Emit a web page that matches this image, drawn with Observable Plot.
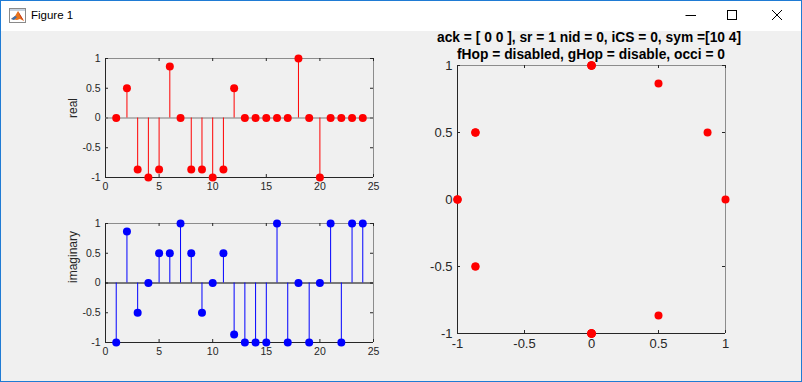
<!DOCTYPE html>
<html><head><meta charset="utf-8">
<script src="https://cdn.jsdelivr.net/npm/d3@7"></script>
<script src="https://cdn.jsdelivr.net/npm/@observablehq/plot@0.6"></script>
<style>
html,body{margin:0;padding:0;}
body{width:802px;height:382px;overflow:hidden;position:relative;background:#f0f0f0;font-family:"Liberation Sans",Arial,sans-serif;}
#titlebar{position:absolute;left:0;top:0;width:802px;height:31px;background:#fff;}
#wintitle{position:absolute;left:31px;top:8px;font-size:11.5px;line-height:15px;color:#000;}
#border{position:absolute;left:0;top:0;width:802px;height:382px;box-sizing:border-box;border:1px solid #1f7bd4;pointer-events:none;}
.ax{position:absolute;}
.ttl{position:absolute;left:437px;width:302px;text-align:center;font-weight:bold;font-size:13.8px;line-height:17px;color:#000;white-space:nowrap;}
</style>
</head><body>
<div id="titlebar">
  <svg style="position:absolute;left:9px;top:8px" width="17" height="15" viewBox="0 0 17 15">
    <rect x="0.5" y="0.5" width="16" height="14" fill="#fff" stroke="#8a8a8a"/>
    <rect x="1" y="1" width="15" height="2" fill="#c8d3e0"/>
    <polygon points="2,11 6,8 9,3 12,8 15,13 11,11 8,12" fill="#e8731c"/>
    <polygon points="2,11 6,8 8,9 5,12" fill="#3a6fb0"/>
    <polygon points="9,3 12,8 15,13 12,10" fill="#c0321a"/>
  </svg>
  <div id="wintitle">Figure 1</div>
  <svg style="position:absolute;left:680px;top:5px" width="110" height="20">
    <line x1="5.5" y1="10.5" x2="16" y2="10.5" stroke="#000"/>
    <rect x="47.5" y="5.5" width="9" height="9" fill="none" stroke="#000"/>
    <line x1="92" y1="5" x2="102" y2="15" stroke="#000"/>
    <line x1="102" y1="5" x2="92" y2="15" stroke="#000"/>
  </svg>
</div>
<div class="ttl" id="t1" style="top:29px"></div>
<div class="ttl" id="t2" style="top:46px;left:440px"></div>
<div id="border"></div>
<script>
// ---- data ----
const symbolIndex = [1,2,3,4,5,6,7,8,9,10,11,12,13,14,15,16,17,18,19,20,21,22,23,24];
const realVals = [0, 0.5, -0.866, -1, -0.866, 0.866, 0, -0.866, -0.866, -1, -0.866, 0.5, 0, 0, 0, 0, 0, 1, 0, -1, 0, 0, 0, 0];
const imagVals = [-1, 0.866, -0.5, 0, 0.5, 0.5, 1, 0.5, -0.5, 0, 0.5, -0.866, -1, -1, -1, 1, -1, 0, -1, 0, 1, -1, 1, 1];
const stemXTicks = [0, 5, 10, 15, 20, 25];
const stemYTicks = [-1, -0.5, 0, 0.5, 1];
const constTicks = [-1, -0.5, 0, 0.5, 1];
const titleLine1 = "ack = [ 0 0 ], sr = 1 nid = 0, iCS = 0, sym =[10 4]";
const titleLine2 = "fHop = disabled, gHop = disable, occi = 0";

document.getElementById("t1").textContent = titleLine1;
document.getElementById("t2").textContent = titleLine2;

const DARK = "#262626", LIGHT = "#8c8c8c";
const fmt = d => String(d);

function makeAxes({left, top, W, H, xDomain, yDomain, xTicks, yTicks, fontSize, yLabel, labelSize, marks}) {
  const mL = 50, mR = 12, mT = 12, mB = 26;
  const frame = [
    Plot.ruleY([yDomain[1]], {stroke: LIGHT}),
    Plot.ruleX([xDomain[1]], {stroke: LIGHT}),
    Plot.ruleY([yDomain[0]], {stroke: DARK}),
    Plot.ruleX([xDomain[0]], {stroke: DARK}),
    Plot.tickX(xTicks, {x: d => d, insetTop: H - 3, stroke: DARK}),
    Plot.tickX(xTicks, {x: d => d, insetBottom: H - 3, stroke: DARK}),
    Plot.tickY(yTicks, {y: d => d, insetRight: W - 3, stroke: DARK}),
    Plot.tickY(yTicks, {y: d => d, insetLeft: W - 3, stroke: DARK}),
    Plot.axisX(xTicks, {tickSize: 0, tickPadding: 5, label: null, tickFormat: fmt, fontSize, fill: DARK}),
    Plot.axisY(yTicks, {tickSize: 0, tickPadding: 5, label: null, tickFormat: fmt, fontSize, fill: DARK})
  ];
  if (yLabel) frame.push(Plot.text([yLabel], {text: d => d, frameAnchor: "left", rotate: -90, dx: -32, fontSize: labelSize, fill: DARK}));
  const svg = Plot.plot({
    width: W + mL + mR, height: H + mT + mB,
    marginLeft: mL, marginRight: mR, marginTop: mT, marginBottom: mB,
    x: {domain: xDomain}, y: {domain: yDomain},
    style: {background: "transparent", fontFamily: '"Liberation Sans", Arial, sans-serif', color: DARK, overflow: "visible"},
    marks: [...frame, ...marks]
  });
  const div = document.createElement("div");
  div.className = "ax";
  div.style.left = (left - mL) + "px";
  div.style.top = (top - mT) + "px";
  div.appendChild(svg);
  document.body.appendChild(div);
}

const realData = symbolIndex.map((n, i) => ({n, v: realVals[i]}));
const imagData = symbolIndex.map((n, i) => ({n, v: imagVals[i]}));
const constData = symbolIndex.map((n, i) => ({re: realVals[i], im: imagVals[i]}));

function stemMarks(data, color, baseColor) {
  return [
    Plot.ruleY([0], {stroke: baseColor}),
    Plot.ruleX(data, {x: "n", y1: 0, y2: "v", stroke: color}),
    Plot.dot(data, {x: "n", y: "v", r: 4, fill: color, stroke: "none"})
  ];
}

makeAxes({left: 105, top: 58, W: 268, H: 119, xDomain: [0, 25], yDomain: [-1, 1],
  xTicks: stemXTicks, yTicks: stemYTicks, fontSize: 10.5, yLabel: "real", labelSize: 12,
  marks: stemMarks(realData, "#ff0000", "#7a7a7a")});
makeAxes({left: 105, top: 223, W: 268, H: 119, xDomain: [0, 25], yDomain: [-1, 1],
  xTicks: stemXTicks, yTicks: stemYTicks, fontSize: 10.5, yLabel: "imaginary", labelSize: 12,
  marks: stemMarks(imagData, "#0000ff", "#000000")});
makeAxes({left: 457, top: 65, W: 268, H: 268, xDomain: [-1, 1], yDomain: [-1, 1],
  xTicks: constTicks, yTicks: constTicks, fontSize: 13,
  marks: [Plot.dot(constData, {x: "re", y: "im", r: 4, fill: "#ff0000", stroke: "none"})]});
</script>
</body></html>
